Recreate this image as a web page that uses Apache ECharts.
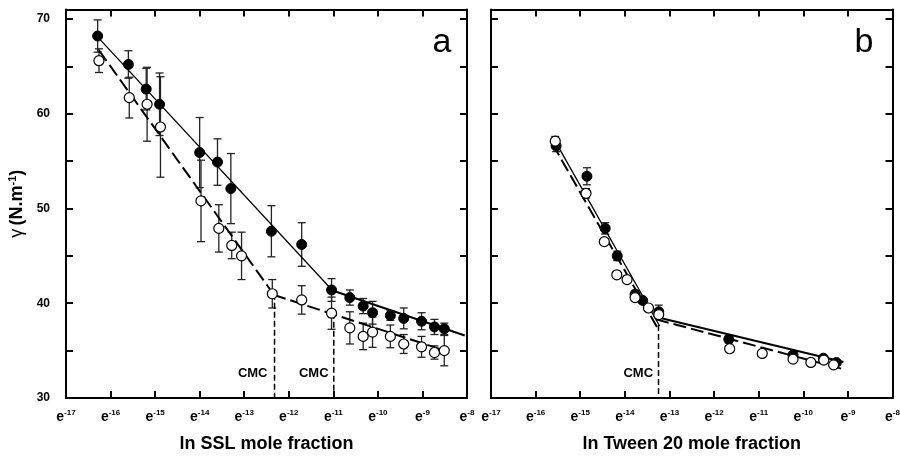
<!DOCTYPE html>
<html>
<head>
<meta charset="utf-8">
<title>Surface tension vs ln mole fraction</title>
<script src="https://cdn.jsdelivr.net/npm/echarts@6/dist/echarts.min.js"></script>
<style>
  html, body { margin: 0; padding: 0; background: #fff; }
  #chart { width: 900px; height: 457px; }
</style>
</head>
<body>
<div id="chart"></div>
<script>
// panel a : SSL, filled = first series, open = second series
var sslFilledX   = [-16.29, -15.6, -15.2, -14.9, -14.0, -13.6, -13.3, -12.39, -11.71, -11.04, -10.63, -10.33, -10.12, -9.72, -9.42, -9.02, -8.73, -8.51];
var sslFilledY   = [68.2, 65.2, 62.6, 61.0, 55.9, 54.9, 52.1, 47.6, 46.2, 41.4, 40.6, 39.7, 39.0, 38.7, 38.4, 38.1, 37.5, 37.3];
var sslFilledErr = [1.7, 1.45, 2.2, 3.3, 3.7, 2.45, 3.7, 2.7, 2.3, 1.2, 0.8, 0.8, 1.2, 0.5, 1.1, 0.9, 0.8, 0.6];

var sslOpenX   = [-16.26, -15.58, -15.18, -14.88, -13.97, -13.57, -13.28, -13.06, -12.37, -11.71, -11.04, -10.63, -10.33, -10.12, -9.72, -9.42, -9.02, -8.73, -8.51];
var sslOpenY   = [65.6, 61.7, 61.0, 58.6, 50.8, 47.9, 46.1, 45.0, 41.0, 40.35, 38.95, 37.4, 36.5, 36.95, 36.5, 35.7, 35.4, 34.8, 35.0];
var sslOpenErr = [1.25, 2.15, 3.9, 5.3, 4.3, 2.5, 1.4, 2.5, 1.5, 1.5, 1.7, 1.7, 1.4, 1.6, 1.2, 1.0, 1.1, 0.7, 1.6];

// panel b : Tween 20
var twFilledX   = [-15.54, -14.85, -14.44, -14.17, -13.77, -13.6, -13.24, -11.67, -10.23, -9.55, -9.26];
var twFilledY   = [56.6, 53.4, 47.9, 45.0, 40.95, 40.3, 39.1, 36.2, 34.55, 34.2, 33.75];
var twFilledErr = [0.6, 0.9, 0.6, 0.5, 0.4, 0.3, 0.7, 0.4, 0.3, 0.3, 0.3];

var twOpenX   = [-15.56, -14.87, -14.46, -14.18, -13.95, -13.77, -13.47, -13.24, -11.65, -10.92, -10.23, -9.83, -9.54, -9.32];
var twOpenY   = [57.1, 51.6, 46.5, 43.0, 42.5, 40.6, 39.5, 38.8, 35.2, 34.7, 34.1, 33.75, 34.0, 33.5];
var twOpenErr = [0.5, 0.5, 0.3, 0.3, 0.3, 0.3, 0.3, 0.3, 0.3, 0.3, 0.3, 0.3, 0.3, 0.3];

// fitted lines (two segments each, break at the CMC)
var sslFilledFit = [[[-16.25, 67.9], [-11.05, 41.5]], [[-11.05, 41.4], [-8.05, 36.6]]];
var sslOpenFit   = [[[-16.26, 66.7], [-12.35, 41.0]], [[-12.35, 40.9], [-8.43, 34.9]]];
var twFilledFit  = [[[-15.55, 57.0], [-13.22, 37.6]], [[-13.25, 38.5], [-9.1, 33.8]]];
var twOpenFit    = [[[-15.62, 56.8], [-13.28, 37.5]], [[-13.3, 38.3], [-9.15, 33.1]]];

var sslCmcX = [-12.32, -10.99];
var sslCmcTop = [41.0, 39.0];
var twCmcX = [-13.245];
var twCmcTop = [37.7];
var sslCmcLabelX = [-12.81, -11.44];
var twCmcLabelX = [-13.70];
var cmcLabelY = 32.55;

var xMin = -17, xMax = -8, yMin = 30, yMax = 71;

var FONT = 'Liberation Sans, Arial, sans-serif';

function pts(xs, ys) {
  return xs.map(function (x, i) { return [x, ys[i]]; });
}
function errs(xs, ys, es) {
  return xs.map(function (x, i) { return [x, ys[i] - es[i], ys[i] + es[i]]; });
}

function errorBar(params, api) {
  var x = api.value(0);
  var lo = api.coord([x, api.value(1)]);
  var hi = api.coord([x, api.value(2)]);
  var w = 4;
  var st = { stroke: '#222', lineWidth: 1.3 };
  return {
    type: 'group',
    children: [
      { type: 'line', shape: { x1: lo[0], y1: lo[1], x2: hi[0], y2: hi[1] }, style: st },
      { type: 'line', shape: { x1: lo[0] - w, y1: lo[1], x2: lo[0] + w, y2: lo[1] }, style: st },
      { type: 'line', shape: { x1: hi[0] - w, y1: hi[1], x2: hi[0] + w, y2: hi[1] }, style: st }
    ]
  };
}

function xAxes(grid, name) {
  var common = {
    type: 'value', gridIndex: grid, min: xMin, max: xMax, interval: 1,
    axisLine: { onZero: false, lineStyle: { color: '#000', width: 2 } },
    axisTick: { inside: true, length: 7, lineStyle: { color: '#000', width: 2 } },
    splitLine: { show: false }
  };
  return [
    Object.assign({}, common, {
      position: 'bottom',
      name: name, nameLocation: 'middle', nameGap: 37,
      nameTextStyle: { fontFamily: FONT, fontSize: 18, fontWeight: 'bold', color: '#000' },
      axisLabel: {
        margin: 11,
        formatter: function (v) { return '{e|e}{s|' + v + '}'; },
        rich: {
          e: { fontFamily: FONT, fontSize: 14, fontWeight: 'bold', color: '#000', lineHeight: 16 },
          s: { fontFamily: FONT, fontSize: 8, fontWeight: 'bold', color: '#000', verticalAlign: 'top', lineHeight: 8 }
        }
      }
    }),
    Object.assign({}, common, { position: 'top', axisLabel: { show: false } })
  ];
}

function yAxes(grid, showLabels) {
  var common = {
    type: 'value', gridIndex: grid, min: yMin, max: yMax, interval: 5,
    axisLine: { onZero: false, lineStyle: { color: '#000', width: 2 } },
    axisTick: { inside: true, length: 7, lineStyle: { color: '#000', width: 2 } },
    splitLine: { show: false }
  };
  var left = Object.assign({}, common, {
    position: 'left',
    axisLabel: {
      show: showLabels, margin: 16,
      fontFamily: FONT, fontSize: 12, fontWeight: 'bold', color: '#000',
      formatter: function (v) { return v % 10 === 0 ? String(v) : ''; }
    }
  });
  if (showLabels) {
    left.name = '{g|γ} {t|(N.m}{s|-1}{t|)}';
    left.nameLocation = 'middle';
    left.nameRotate = 90;
    left.nameGap = 39;
    left.nameTextStyle = {
      rich: {
        g: { fontFamily: FONT, fontSize: 18, color: '#000', lineHeight: 20 },
        t: { fontFamily: FONT, fontSize: 18, fontWeight: 'bold', color: '#000', lineHeight: 20 },
        s: { fontFamily: FONT, fontSize: 11, fontWeight: 'bold', color: '#000', verticalAlign: 'top', lineHeight: 11 }
      }
    };
  }
  return [left, Object.assign({}, common, { position: 'right', axisLabel: { show: false } })];
}

function panelSeries(xi, yi, fx, fy, fe, ox, oy, oe, fFit, oFit, cmcX, cmcTop, cmcLabelX) {
  var s = [];
  s.push({ type: 'custom', xAxisIndex: xi, yAxisIndex: yi, renderItem: errorBar,
    data: errs(fx, fy, fe), encode: { x: 0, y: [1, 2] }, z: 1, silent: true });
  s.push({ type: 'custom', xAxisIndex: xi, yAxisIndex: yi, renderItem: errorBar,
    data: errs(ox, oy, oe), encode: { x: 0, y: [1, 2] }, z: 1, silent: true });
  fFit.forEach(function (seg, k) {
    s.push({ type: 'line', xAxisIndex: xi, yAxisIndex: yi, data: seg, symbol: 'none', z: 2,
      lineStyle: { color: '#000', width: k === 0 ? 1.3 : 2.2 }, silent: true });
  });
  oFit.forEach(function (seg) {
    s.push({ type: 'line', xAxisIndex: xi, yAxisIndex: yi, data: seg, symbol: 'none', z: 2,
      lineStyle: { color: '#000', width: 2, type: [13, 5] }, silent: true });
  });
  cmcX.forEach(function (x, k) {
    s.push({ type: 'line', xAxisIndex: xi, yAxisIndex: yi, data: [[x, cmcTop[k]], [x, yMin]],
      symbol: 'none', z: 2, lineStyle: { color: '#000', width: 1.5, type: [6, 3] }, silent: true });
  });
  s.push({ type: 'scatter', xAxisIndex: xi, yAxisIndex: yi, data: pts(fx, fy), symbol: 'circle',
    symbolSize: 10, z: 3, itemStyle: { color: '#000', borderColor: '#000', borderWidth: 1, opacity: 1 }, silent: true });
  s.push({ type: 'scatter', xAxisIndex: xi, yAxisIndex: yi, data: pts(ox, oy), symbol: 'circle',
    symbolSize: 10, z: 4, itemStyle: { color: '#fff', borderColor: '#000', borderWidth: 1.2, opacity: 1 }, silent: true });
  s.push({ type: 'scatter', xAxisIndex: xi, yAxisIndex: yi,
    data: cmcLabelX.map(function (x) { return [x, cmcLabelY]; }),
    symbolSize: 0, z: 5, itemStyle: { color: 'rgba(0,0,0,0)', opacity: 1 }, silent: true,
    label: { show: true, position: 'inside', formatter: 'CMC', fontFamily: FONT, opacity: 1,
      fontSize: 13, fontWeight: 'bold', color: '#000' } });
  return s;
}

var chart = echarts.init(document.getElementById('chart'));

var xa = xAxes(0, 'ln SSL mole fraction').concat(xAxes(1, 'ln Tween 20 mole fraction'));
var ya = yAxes(0, true).concat(yAxes(1, false));

chart.setOption({
  animation: false,
  backgroundColor: '#fff',
  grid: [
    { left: 66, top: 9.5, width: 401, height: 388.5, outerBoundsMode: 'none' },
    { left: 491, top: 9.5, width: 401.5, height: 388.5, outerBoundsMode: 'none' }
  ],
  xAxis: xa,
  yAxis: ya,
  graphic: [
    { type: 'text', x: 442, y: 43, style: { text: 'a', font: '34px ' + FONT, fill: '#000', textAlign: 'center', textVerticalAlign: 'middle' } },
    { type: 'text', x: 864, y: 43, style: { text: 'b', font: '34px ' + FONT, fill: '#000', textAlign: 'center', textVerticalAlign: 'middle' } }
  ],
  series: panelSeries(0, 0, sslFilledX, sslFilledY, sslFilledErr, sslOpenX, sslOpenY, sslOpenErr,
                      sslFilledFit, sslOpenFit, sslCmcX, sslCmcTop, sslCmcLabelX)
    .concat(panelSeries(2, 2, twFilledX, twFilledY, twFilledErr, twOpenX, twOpenY, twOpenErr,
                        twFilledFit, twOpenFit, twCmcX, twCmcTop, twCmcLabelX))
});
</script>
</body>
</html>
